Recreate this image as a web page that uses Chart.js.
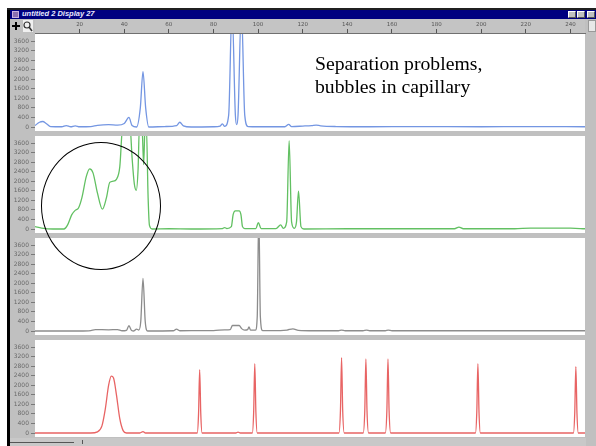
<!DOCTYPE html>
<html><head><meta charset="utf-8">
<script src="https://cdn.jsdelivr.net/npm/chart.js@4.4.1/dist/chart.umd.min.js"></script>
<style>
html,body{margin:0;padding:0;background:#fff;}
#win{position:relative;width:596px;height:446px;overflow:hidden;background:#fff;}
.abs{position:absolute;}
canvas{position:absolute;display:block;}
</style></head><body>
<div id="win">
  <div class="abs" style="left:7px;top:8px;width:589px;height:438px;background:#c0c0c0;"></div>
  <div class="abs" style="left:7px;top:8px;width:3px;height:438px;background:#000;"></div>
  <div class="abs" style="left:7px;top:8px;width:589px;height:2px;background:#202020;"></div>
  <div class="abs" style="left:10px;top:10px;width:586px;height:9px;background:#000080;"></div>
  <div class="abs" style="left:12px;top:11px;width:7px;height:7px;background:#8a6fb0;border:1px solid #c8b0e0;box-sizing:border-box;"></div>
  <div class="abs" style="left:22px;top:9px;font:italic bold 7.5px 'Liberation Sans',Arial,sans-serif;color:#e8e8ff;line-height:10px;white-space:nowrap;">untitled 2 Display 27</div>
  <div class="abs" style="left:568px;top:11px;width:8px;height:7px;background:#c0c0c0;border:1px solid #fff;border-right-color:#555;border-bottom-color:#555;box-sizing:border-box;"></div>
  <div class="abs" style="left:577px;top:11px;width:8px;height:7px;background:#c0c0c0;border:1px solid #fff;border-right-color:#555;border-bottom-color:#555;box-sizing:border-box;"></div>
  <div class="abs" style="left:587px;top:11px;width:8px;height:7px;background:#c0c0c0;border:1px solid #fff;border-right-color:#555;border-bottom-color:#555;box-sizing:border-box;"></div>

  <canvas id="ruler" width="550" height="32" style="left:35px;top:19px;"></canvas>

  <!-- toolbar icons -->
  <svg class="abs" style="left:10px;top:19px" width="25" height="15">
    <rect x="0" y="0" width="25" height="15" fill="#c0c0c0"/>
    <path d="M6 3 V11 M2 7 H10" stroke="#000" stroke-width="2"/>
    <rect x="13" y="1" width="10" height="12" fill="#f0f0f0"/>
    <circle cx="17" cy="6" r="3" fill="none" stroke="#333" stroke-width="1.2"/>
    <path d="M19 8 L22 12" stroke="#333" stroke-width="1.5"/>
  </svg>
  <div class="abs" style="left:588px;top:20px;width:8px;height:12px;background:#e8e8e8;border:1px solid #999;box-sizing:border-box;"></div>
  <!-- bottom scrollbar -->
  <div class="abs" style="left:10px;top:438px;width:576px;height:8px;background:#c8c8c8;"></div>
  <div class="abs" style="left:10px;top:442px;width:64px;height:1px;background:#555;"></div>
  <div class="abs" style="left:82px;top:440px;width:1px;height:4px;background:#555;"></div>

  <canvas id="p1" width="575" height="97" style="left:10px;top:34px;"></canvas>
  <canvas id="p2" width="575" height="97" style="left:10px;top:136px;"></canvas>
  <canvas id="p3" width="575" height="97" style="left:10px;top:238px;"></canvas>
  <canvas id="p4" width="575" height="97" style="left:10px;top:340px;"></canvas>
  <div class="abs" style="left:35px;top:33px;width:551px;height:1px;background:#707070;"></div>

  <div class="abs" style="left:41px;top:142px;width:120px;height:128px;border:1px solid #000;border-radius:50%;box-sizing:border-box;"></div>
  <div class="abs" style="left:315px;top:51.5px;font:19.7px 'Liberation Serif','Times New Roman',serif;line-height:23.5px;color:#000;white-space:nowrap;">Separation problems,<br>bubbles in capillary</div>
</div>
<script>
// ---- data ----
const xTicks = [20,40,60,80,100,120,140,160,180,200,220,240];
const yTicks = [0,400,800,1200,1600,2000,2400,2800,3200,3600];

const blueSize   = [0,2,3.5,5,7,12,14,16,18,20,25,28,33,37,40,42.1,43.5,45.5,47.2,48.4,49.6,51,58,63.5,64.9,66.5,70,80,83,84,85,86.8,88.3,89.8,90.4,91,92.5,94,95.5,100,112,113.7,115,120,124,126,128,135,150,170,200,220,246.5];
const blueSignal = [60,200,230,150,20,10,60,10,50,10,20,70,100,80,150,400,60,0,800,2320,800,0,20,60,200,50,0,10,40,130,30,500,5000,500,100,500,5000,500,20,10,10,110,20,40,60,80,50,20,10,20,10,20,10];

const greenSize   = [0,3,8,13,14.5,16.5,18,19.5,21,23,24.5,26,28,30.2,32,33.5,35,36.5,38,39.3,42.5,43.5,44.5,45.4,46.2,46.8,48,48.7,49.3,49.9,50.7,51.3,52.5,60,70,84,85,86,88,88.8,89.8,91.5,92.3,93,94,99,100.1,101.3,108,110.1,111.3,112.8,113.9,115,116.2,117.2,118.1,119.2,120.5,140,188,190,192,215,222,240,246.5];
const greenSignal = [100,40,0,0,150,600,780,880,1300,2200,2520,2350,1500,830,1300,1950,2000,2080,2600,4300,4400,3000,1900,1620,2500,4300,4200,2700,4300,4300,1300,150,0,10,0,20,60,20,100,600,760,760,600,100,20,20,270,20,20,170,30,300,3700,300,30,300,1580,100,0,10,10,80,10,10,35,35,10];

const greySize   = [0,20,25,27,33,37,39,41,42.1,43.3,44.3,45.5,46.5,47.4,48.4,49.4,50.5,62,63.4,65,75,80,85,87.5,88.5,91.5,92.6,94,95.3,95.9,96.6,98.8,99.6,100.3,101,102,110,113,115.6,118,125,136,137.4,139,147,148.6,150,157,158.3,160,246.5];
const greySignal = [0,0,20,60,50,60,10,30,220,20,0,80,40,400,2200,400,0,10,80,10,20,20,50,60,230,230,100,40,60,170,40,40,600,5000,600,20,20,40,90,30,10,10,40,10,10,40,10,10,40,10,10];

const redSize   = [0,25,28,30,31.5,33,34.2,35.2,36.5,38,39.5,41,47,48.4,49.5,72.7,73.3,73.8,74.3,74.9,90,91,92,97.4,98,98.5,99,99.6,136.2,136.9,137.4,137.9,138.6,147.1,147.8,148.3,148.8,149.5,157,157.7,158.2,158.7,159.4,197.4,198,198.5,199,199.6,241.3,241.9,242.4,242.9,243.5,246.5];
const redSignal = [0,0,50,300,1000,2000,2380,2300,1600,600,100,0,0,60,0,0,800,2650,800,0,0,40,0,0,870,2900,870,0,0,950,3150,950,0,0,930,3100,930,0,0,930,3100,930,0,0,870,2900,870,0,0,830,2780,830,0,0];

const X_MIN = 0, X_MAX = 246.5, Y_MIN = -167, Y_MAX = 3893;

// ---- charts ----
const areaBg = {id:'areaBg', beforeDraw(c){const {ctx,chartArea:a}=c; if(!a) return; ctx.save(); ctx.fillStyle='#c0c0c0'; ctx.fillRect(0,0,c.width,c.height); ctx.fillStyle='#ffffff'; ctx.fillRect(a.left,a.top,a.right-a.left,a.bottom-a.top); ctx.restore();}};

function pts(xs, ys){ return xs.map((x,i)=>({x:x, y:ys[i]})); }

function panel(id, xs, ys, color){
  new Chart(document.getElementById(id), {
    type:'line',
    data:{datasets:[{data:pts(xs,ys), borderColor:color, borderWidth:1.3, pointRadius:0, fill:false, cubicInterpolationMode:'monotone'}]},
    options:{
      responsive:false, animation:false, devicePixelRatio:1,
      layout:{padding:0},
      plugins:{legend:{display:false}, tooltip:{enabled:false}},
      scales:{
        x:{type:'linear', min:X_MIN, max:X_MAX, display:false},
        y:{min:Y_MIN, max:Y_MAX,
           afterBuildTicks(s){ s.ticks = yTicks.map(v=>({value:v})); },
           afterFit(s){ s.width = 25; s.paddingTop = 0; s.paddingBottom = 0; },
           border:{display:false},
           grid:{drawOnChartArea:false, drawTicks:true, tickLength:4, color:'#7a7a7a', lineWidth:1},
           ticks:{font:{size:6, family:'DejaVu Sans'}, color:'#6a6a6a', padding:2, autoSkip:false, callback:v=>String(v)}
        }
      }
    },
    plugins:[areaBg]
  });
}

panel('p1', blueSize, blueSignal, '#7496e2');
panel('p2', greenSize, greenSignal, '#62c062');
panel('p3', greySize, greySignal, '#8c8c8c');
panel('p4', redSize, redSignal, '#e86464');

new Chart(document.getElementById('ruler'), {
  type:'line',
  data:{datasets:[{data:[]}]},
  options:{
    responsive:false, animation:false, devicePixelRatio:1,
    layout:{padding:{top:2, left:0, right:0, bottom:0}},
    plugins:{legend:{display:false}, tooltip:{enabled:false}},
    scales:{
      x:{type:'linear', position:'top', min:X_MIN, max:X_MAX,
         afterBuildTicks(s){ s.ticks = xTicks.map(v=>({value:v})); },
         afterFit(s){ s.paddingLeft = 0; s.paddingRight = 0; s.height = 12; },
         border:{display:false},
         grid:{drawOnChartArea:false, drawTicks:true, tickLength:4, color:'#555'},
         ticks:{font:{size:5.5, family:'DejaVu Sans'}, color:'#555', padding:1, maxRotation:0, autoSkip:false, callback:v=>String(v)}
      },
      y:{display:false}
    }
  },
  plugins:[{id:'rbg', beforeDraw(c){const ctx=c.ctx; ctx.save(); ctx.fillStyle='#c4c4c4'; ctx.fillRect(0,0,c.width,14); ctx.restore();}}]
});
</script>
</body></html>
